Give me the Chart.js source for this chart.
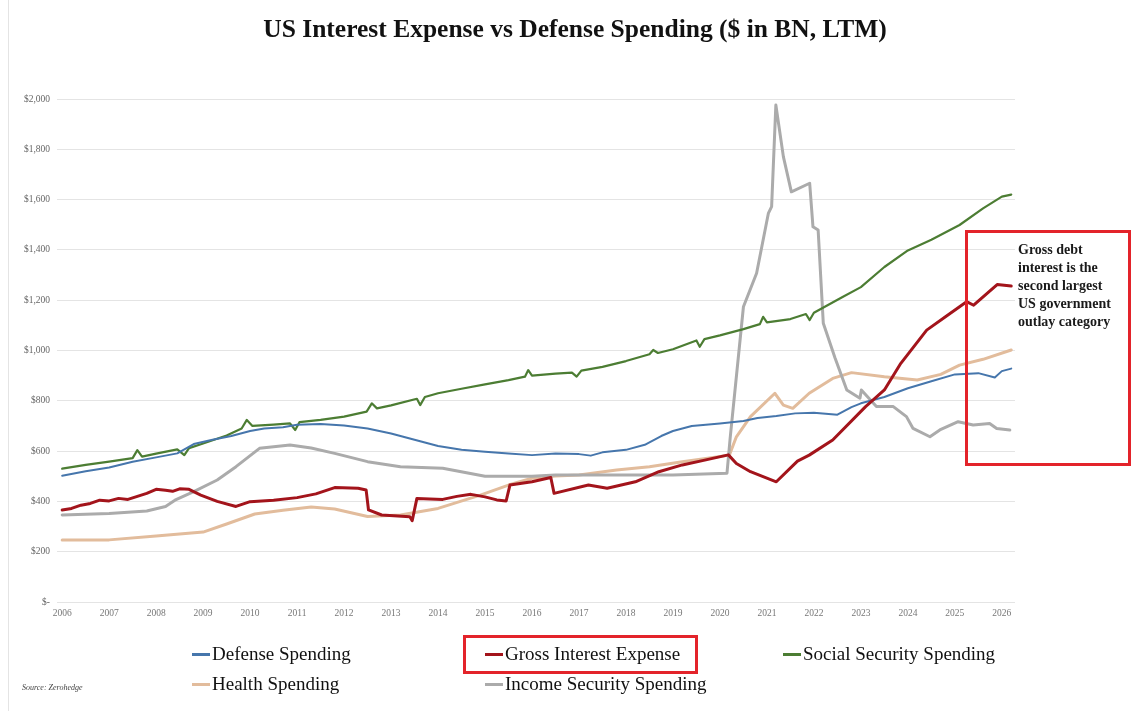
<!DOCTYPE html>
<html>
<head>
<meta charset="utf-8">
<script src="https://cdn.jsdelivr.net/npm/chart.js@4.4.1/dist/chart.umd.min.js"></script>
<style>
  body { margin: 0; background: #fff; }
  #wrap { position: relative; width: 1134px; height: 711px; overflow: hidden; background: #fff; }
  #chart { position: absolute; left: 0; top: 0; }
  .title { position: absolute; left: 0; width: 1150px; top: 14px; text-align: center;
    font: bold 25.5px "Liberation Serif", serif; color: #111; }
  .leg { position: absolute; font: 19px "Liberation Serif", serif; color: #111; white-space: nowrap; line-height: 22px; }
  .leg i { display: inline-block; width: 18px; height: 3px; vertical-align: middle; margin-right: 2px; position: relative; top: -1px; }
  .box { position: absolute; border: 3px solid #e3232a; box-sizing: border-box; }
  .note { position: absolute; left: 1018px; top: 241px; font: bold 14px "Liberation Serif", serif; line-height: 18px; color: #1a1a1a; }
  .source { position: absolute; left: 22px; top: 683px; font: italic 8px "Liberation Serif", serif; color: #444; }
  .edge { position: absolute; left: 8px; top: 0; width: 1px; height: 711px; background: #e4e4e4; }
</style>
</head>
<body>
<div id="wrap">
  <canvas id="chart" width="1134" height="711"></canvas>
  <div class="edge"></div>
  <div class="title">US Interest Expense vs Defense Spending ($ in BN, LTM)</div>
  <div class="box" style="left:965px;top:230px;width:166px;height:236px;"></div>
  <div class="note">Gross debt<br>interest is the<br>second largest<br>US government<br>outlay category</div>
  <div class="box" style="left:463px;top:635px;width:235px;height:39px;"></div>
  <div class="source">Source: Zerohedge</div>
</div>
<script>
// x tick labels (years)
const years = [2006, 2007, 2008, 2009, 2010, 2011, 2012, 2013, 2014, 2015, 2016,
  2017, 2018, 2019, 2020, 2021, 2022, 2023, 2024, 2025, 2026];

// series as [year, $BN] pairs
const defense = [
  [2006.0, 502], [2006.5, 520], [2007.0, 535], [2007.5, 558], [2008.0, 575], [2008.45, 591],
  [2008.8, 628], [2009.2, 645], [2009.6, 660], [2010.0, 680], [2010.3, 690], [2010.7, 695],
  [2011.0, 705], [2011.5, 708], [2012.0, 702], [2012.5, 690], [2013.0, 670], [2013.5, 645],
  [2014.0, 620], [2014.5, 605], [2015.0, 597], [2015.5, 590], [2016.0, 584], [2016.5, 590],
  [2017.0, 588], [2017.25, 582], [2017.5, 595], [2018.0, 605], [2018.4, 625], [2018.75, 660],
  [2019.0, 680], [2019.4, 700], [2020.0, 710], [2020.5, 720], [2020.8, 732], [2021.2, 740],
  [2021.6, 750], [2022.0, 752], [2022.5, 745], [2022.8, 775], [2023.0, 790], [2023.5, 815],
  [2024.0, 850], [2024.5, 878], [2025.0, 905], [2025.5, 910], [2025.85, 893], [2026.0, 918],
  [2026.2, 928]
];

const interest = [
  [2006.0, 366], [2006.2, 372], [2006.4, 385], [2006.6, 392], [2006.8, 405], [2007.0, 402],
  [2007.2, 412], [2007.4, 408], [2007.6, 420], [2007.8, 432], [2008.0, 448], [2008.2, 444],
  [2008.35, 440], [2008.5, 450], [2008.7, 448], [2008.95, 425], [2009.3, 400], [2009.7, 380],
  [2010.0, 399], [2010.5, 405], [2011.0, 415], [2011.4, 430], [2011.8, 455], [2012.3, 452],
  [2012.47, 445], [2012.52, 366], [2012.8, 346], [2013.4, 339], [2013.45, 323], [2013.55, 412],
  [2014.1, 408], [2014.4, 420], [2014.7, 428], [2015.0, 418], [2015.25, 406], [2015.45, 402],
  [2015.53, 465], [2016.0, 478], [2016.4, 495], [2016.47, 432], [2017.2, 465], [2017.6, 452],
  [2018.2, 478], [2018.7, 518], [2019.2, 545], [2019.7, 565], [2020.18, 585], [2020.35, 551],
  [2020.65, 518], [2021.2, 478], [2021.65, 560], [2021.9, 584], [2022.4, 644], [2023.1, 777],
  [2023.5, 843], [2023.85, 949], [2024.4, 1081], [2024.8, 1134], [2025.25, 1194], [2025.4, 1180],
  [2025.9, 1262], [2026.2, 1256]
];

const socialSecurity = [
  [2006.0, 530], [2006.5, 545], [2007.0, 558], [2007.5, 572], [2007.6, 604], [2007.7, 578],
  [2008.0, 590], [2008.45, 607], [2008.6, 584], [2008.7, 612], [2009.0, 630], [2009.5, 662],
  [2009.82, 690], [2009.93, 724], [2010.05, 700], [2010.5, 705], [2010.85, 710], [2010.96, 684],
  [2011.05, 715], [2011.5, 724], [2012.0, 737], [2012.48, 757], [2012.59, 790], [2012.7, 770],
  [2013.0, 782], [2013.55, 808], [2013.62, 783], [2013.72, 815], [2014.0, 830], [2014.5, 848],
  [2015.0, 865], [2015.5, 882], [2015.85, 896], [2015.92, 922], [2016.0, 900], [2016.5, 908],
  [2016.85, 912], [2016.95, 896], [2017.05, 920], [2017.5, 935], [2018.0, 958], [2018.5, 985],
  [2018.58, 1002], [2018.68, 990], [2019.0, 1005], [2019.5, 1040], [2019.57, 1015], [2019.67, 1045],
  [2020.0, 1060], [2020.5, 1085], [2020.85, 1105], [2020.92, 1134], [2021.0, 1112], [2021.5, 1125],
  [2021.83, 1145], [2021.91, 1121], [2022.0, 1150], [2022.6, 1212], [2023.0, 1252], [2023.5, 1332],
  [2024.0, 1398], [2024.5, 1440], [2025.1, 1499], [2025.6, 1565], [2026.0, 1612], [2026.2, 1620]
];

const health = [
  [2006.0, 247], [2007.0, 247], [2008.0, 262], [2009.0, 278], [2009.5, 310], [2010.1, 350],
  [2010.7, 365], [2011.3, 378], [2011.8, 370], [2012.5, 340], [2013.2, 346], [2014.0, 372],
  [2014.9, 425], [2015.5, 465], [2016.0, 492], [2016.5, 501], [2017.0, 505], [2017.8, 525],
  [2018.5, 538], [2019.2, 558], [2019.7, 571], [2020.2, 584], [2020.35, 657], [2020.65, 737],
  [2021.17, 830], [2021.35, 783], [2021.55, 770], [2021.9, 830], [2022.4, 889], [2022.8, 912],
  [2023.5, 896], [2024.2, 883], [2024.7, 905], [2025.1, 942], [2025.6, 965], [2026.2, 1002]
];

const incomeSecurity = [
  [2006.0, 346], [2007.0, 352], [2007.8, 362], [2008.2, 380], [2008.4, 405], [2008.8, 439],
  [2009.3, 485], [2009.7, 538], [2010.2, 611], [2010.85, 624], [2011.3, 612], [2011.8, 591],
  [2012.5, 558], [2013.2, 538], [2014.1, 532], [2015.0, 500], [2016.0, 500], [2016.5, 505],
  [2017.0, 505], [2018.0, 505], [2019.0, 505], [2020.15, 512], [2020.22, 657], [2020.5, 1174],
  [2020.78, 1307], [2021.03, 1545], [2021.1, 1572], [2021.19, 1976], [2021.35, 1771], [2021.52, 1631],
  [2021.91, 1665], [2021.98, 1492], [2022.09, 1479], [2022.2, 1108], [2022.45, 970], [2022.7, 843],
  [2022.98, 810], [2023.01, 843], [2023.33, 777], [2023.69, 777], [2023.97, 737], [2024.11, 690],
  [2024.47, 657], [2024.68, 684], [2025.07, 717], [2025.39, 704], [2025.74, 710], [2025.89, 690],
  [2026.17, 684]
];

// legend order as in the picture (3 per row)
const legendNames = ['Defense Spending', 'Gross Interest Expense', 'Social Security Spending',
  'Health Spending', 'Income Security Spending'];
const legendColors = ['#4676ac', '#a3141b', '#4c7d33', '#e2bc9c', '#ababab'];

function pts(arr) {
  return arr.map(p => ({ x: p[0], y: p[1] }));
}

const ctx = document.getElementById('chart').getContext('2d');

const chart = new Chart(ctx, {
  type: 'line',
  data: {
    datasets: [
      { label: legendNames[1], data: pts(interest), borderColor: legendColors[1], borderWidth: 3 },
      { label: legendNames[0], data: pts(defense), borderColor: legendColors[0], borderWidth: 2 },
      { label: legendNames[2], data: pts(socialSecurity), borderColor: legendColors[2], borderWidth: 2.2 },
      { label: legendNames[4], data: pts(incomeSecurity), borderColor: legendColors[4], borderWidth: 3 },
      { label: legendNames[3], data: pts(health), borderColor: legendColors[3], borderWidth: 3 },
    ],
  },
  options: {
    responsive: false,
    animation: false,
    events: [],
    elements: {
      point: { radius: 0 },
      line: { tension: 0, borderJoinStyle: 'round', borderCapStyle: 'round' },
    },
    layout: {
      padding: { top: 99, right: 119, bottom: 0, left: 0 },
    },
    plugins: {
      legend: { display: false },
      title: { display: false },
      tooltip: { enabled: false },
    },
    scales: {
      x: {
        type: 'linear',
        min: 2005.89,
        max: 2026.28,
        afterBuildTicks(scale) {
          scale.ticks = years.map(v => ({ value: v }));
        },
        afterFit(scale) {
          scale.height = 109;
        },
        grid: { display: false, drawTicks: false },
        border: { display: false },
        ticks: {
          autoSkip: false,
          maxRotation: 0,
          padding: 6,
          color: '#777',
          font: { family: 'Liberation Serif', size: 9.5 },
          callback: v => String(v),
        },
      },
      y: {
        min: 0,
        max: 2000,
        afterFit(scale) {
          scale.width = 57;
        },
        grid: { color: '#e4e4e4', lineWidth: 1, drawTicks: false },
        border: { display: false },
        ticks: {
          stepSize: 200,
          padding: 7,
          color: '#666',
          font: { family: 'Liberation Serif', size: 9.5 },
          callback: v => (v === 0 ? '$-' : '$' + v.toLocaleString('en-US')),
        },
      },
    },
  },
});

// legend below the plot, laid out in rows of three
const colX = [192, 485, 783];
const rowY = [643, 673];
const wrap = document.getElementById('wrap');
legendNames.forEach((name, i) => {
  const el = document.createElement('div');
  el.className = 'leg';
  el.style.left = colX[i % 3] + 'px';
  el.style.top = rowY[Math.floor(i / 3)] + 'px';
  el.innerHTML = '<i style="background:' + legendColors[i] + '"></i>' + name;
  wrap.appendChild(el);
});
</script>
</body>
</html>
